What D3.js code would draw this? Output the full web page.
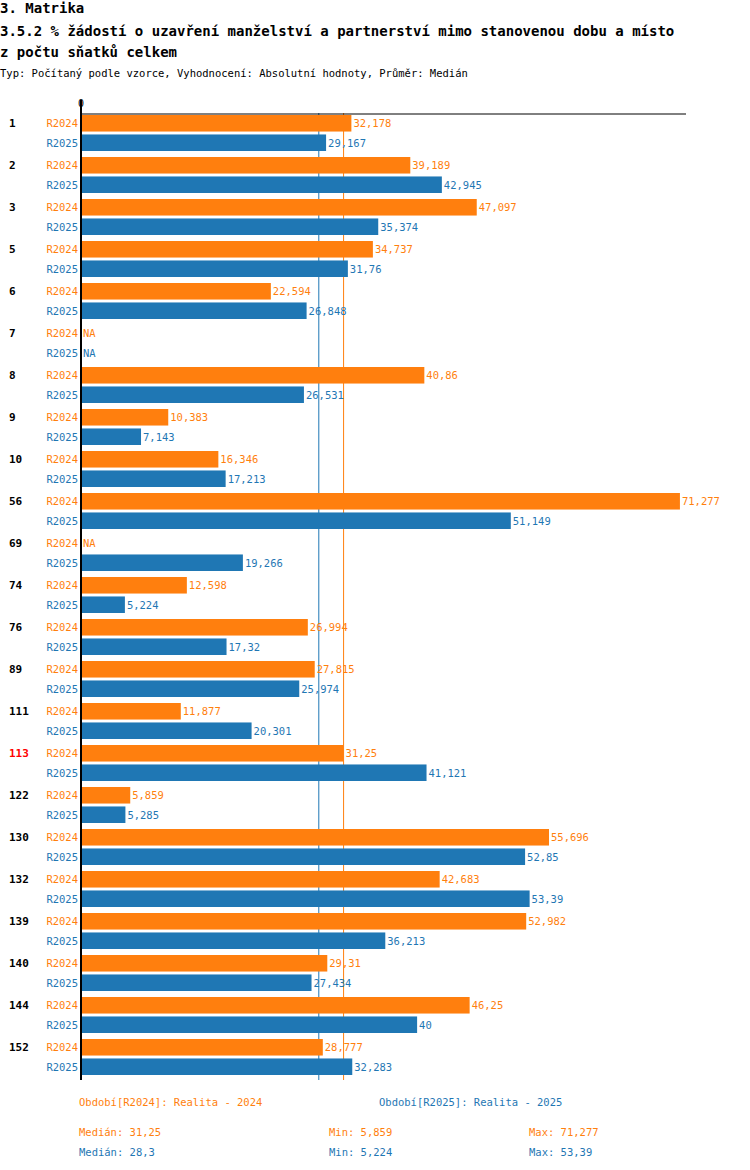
<!DOCTYPE html>
<html><head><meta charset="utf-8">
<script src="https://cdn.jsdelivr.net/npm/d3@7"></script>
<style>
body{margin:0;background:#fff;font-family:"DejaVu Sans Mono",monospace;}
text{font-family:"DejaVu Sans Mono",monospace;}
</style></head>
<body><div id="chart"></div>
<script>
var categories = ["1","2","3","5","6","7","8","9","10","56","69","74","76","89","111","113","122","130","132","139","140","144","152"];
var highlighted = ["113"];
var series = ["R2024","R2025"];
var values2024 = [32.178,39.189,47.097,34.737,22.594,null,40.86,10.383,16.346,71.277,null,12.598,26.994,27.815,11.877,31.25,5.859,55.696,42.683,52.982,29.31,46.25,28.777];
var values2025 = [29.167,42.945,35.374,31.76,26.848,null,26.531,7.143,17.213,51.149,19.266,5.224,17.32,25.974,20.301,41.121,5.285,52.85,53.39,36.213,27.434,40,32.283];
var medians = [31.25, 28.3];
var mins = [5.859, 5.224];
var maxs = [71.277, 53.39];
var legendLabels = ["Období[R2024]: Realita - 2024", "Období[R2025]: Realita - 2025"];
var colors = ["#ff7f0e", "#1f77b4"];

function fmt(v){ return String(v).replace(".", ","); }

var svg = d3.select("#chart").append("svg").attr("width",750).attr("height",1170);

svg.append("text").attr("x",0).attr("y",13).attr("font-size",14).attr("font-weight","bold").text("3. Matrika");
svg.append("text").attr("x",0).attr("y",36).attr("font-size",14).attr("font-weight","bold")
  .text("3.5.2 % žádostí o uzavření manželství a partnerství mimo stanovenou dobu a místo");
svg.append("text").attr("x",0).attr("y",57).attr("font-size",14).attr("font-weight","bold").text("z počtu sňatků celkem");
svg.append("text").attr("x",0).attr("y",77).attr("font-size",10.5).text("Typ: Počítaný podle vzorce, Vyhodnocení: Absolutní hodnoty, Průměr: Medián");

var x = d3.scaleLinear().domain([0,72]).range([81,686]);
var y = d3.scaleBand().domain(categories).range([114,1080]);
var sub = d3.scaleBand().domain(series).range([0,36]).paddingInner(0.15);

// median lines
medians.slice().reverse().forEach(function(m,i){
  svg.append("line").attr("x1",x(m)).attr("x2",x(m)).attr("y1",113).attr("y2",1080)
    .attr("stroke",colors[1-i]).attr("stroke-width",1);
});

var data = [];
categories.forEach(function(c,i){
  data.push({c:c,s:"R2024",v:values2024[i],col:colors[0]});
  data.push({c:c,s:"R2025",v:values2025[i],col:colors[1]});
});

svg.selectAll("rect.bar").data(data.filter(function(d){return d.v!=null;})).enter().append("rect")
  .attr("x",x(0)).attr("y",function(d){return y(d.c)+1+sub(d.s);})
  .attr("width",function(d){return x(d.v)-x(0);}).attr("height",sub.bandwidth())
  .attr("fill",function(d){return d.col;});

svg.selectAll("text.val").data(data).enter().append("text")
  .attr("x",function(d){return (d.v==null?x(0):x(d.v))+2;})
  .attr("y",function(d){return y(d.c)+1+sub(d.s)+sub.bandwidth()/2+4;})
  .attr("font-size",10.5).attr("fill",function(d){return d.col;})
  .text(function(d){return d.v==null?"NA":fmt(d.v);});

svg.selectAll("text.ser").data(data).enter().append("text")
  .attr("x",78).attr("text-anchor","end")
  .attr("y",function(d){return y(d.c)+1+sub(d.s)+sub.bandwidth()/2+4;})
  .attr("font-size",10.5).attr("fill",function(d){return d.col;})
  .text(function(d){return d.s;});

svg.selectAll("text.cat").data(categories).enter().append("text")
  .attr("x",9).attr("y",function(c){return y(c)+13;})
  .attr("font-size",11).attr("font-weight","bold")
  .attr("fill",function(c){return highlighted.indexOf(c)>=0?"red":"#000";})
  .text(function(c){return c;});

// axes
svg.append("line").attr("x1",81).attr("x2",686).attr("y1",114).attr("y2",114).attr("stroke","#000");
svg.append("line").attr("x1",81).attr("x2",81).attr("y1",100).attr("y2",1080).attr("stroke","#000").attr("stroke-width",2);
svg.append("text").attr("x",81).attr("y",107).attr("text-anchor","middle").attr("font-size",10).text("0");

// legend
[79,379].forEach(function(px,i){
  svg.append("text").attr("x",px).attr("y",1106).attr("font-size",10.5).attr("fill",colors[i]).text(legendLabels[i]);
});
[0,1].forEach(function(i){
  var yy = 1136 + i*20;
  svg.append("text").attr("x",79).attr("y",yy).attr("font-size",10.5).attr("fill",colors[i]).text("Medián: "+fmt(medians[i]));
  svg.append("text").attr("x",329).attr("y",yy).attr("font-size",10.5).attr("fill",colors[i]).text("Min: "+fmt(mins[i]));
  svg.append("text").attr("x",529).attr("y",yy).attr("font-size",10.5).attr("fill",colors[i]).text("Max: "+fmt(maxs[i]));
});
</script></body></html>
